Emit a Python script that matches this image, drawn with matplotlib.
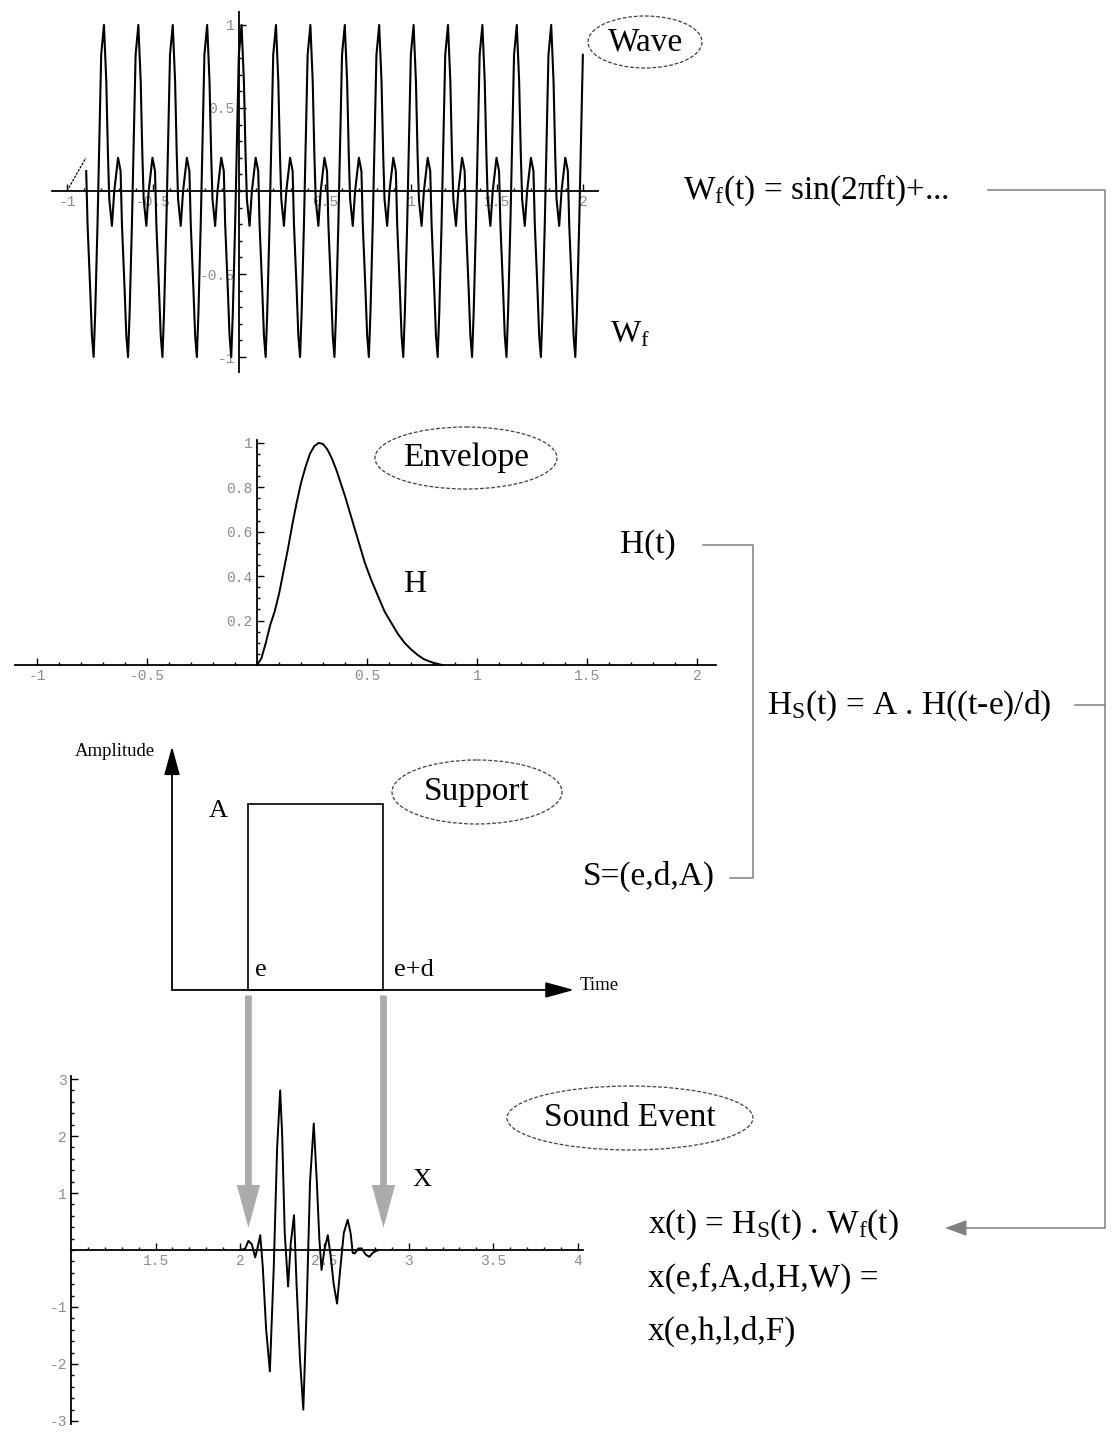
import matplotlib.pyplot as plt
import numpy as np
from matplotlib.patches import Ellipse, Rectangle
from matplotlib.ticker import FixedLocator, FixedFormatter

plt.rcParams['font.family'] = ['Liberation Serif', 'DejaVu Serif']
plt.rcParams['mathtext.fontset'] = 'custom'
plt.rcParams['mathtext.rm'] = 'Liberation Serif'
plt.rcParams['mathtext.it'] = 'Liberation Serif:italic'

W, H = 1113, 1439

# --- data ----------------------------------------------------------------
# W_f : one period of the wave (phase 0..1 from a top peak), repeated f = 5
wave_period = 0.2
wave_first_peak = -0.785
wave_phase = [0.0, 0.068, 0.116, 0.155, 0.232, 0.30, 0.41, 0.484, 0.523,
              0.60, 0.65, 0.70, 0.745, 0.813, 0.871, 0.92]
wave_value = [1.0, 0.66, 0.22, -0.05, -0.21, 0.0, 0.2, 0.12, -0.2,
              -0.59, -0.87, -1.0, -0.74, -0.2, 0.36, 0.82]
wave_ramp_t = [-1.0, -0.89]
wave_ramp_v = [0.0, 0.2]

# H : envelope
env_t = [0.0, 0.02, 0.04, 0.06, 0.08, 0.10, 0.12, 0.14, 0.16, 0.18, 0.20,
         0.22, 0.24, 0.26, 0.28, 0.30, 0.32, 0.34, 0.36, 0.38, 0.40, 0.43,
         0.46, 0.49, 0.52, 0.55, 0.58, 0.61, 0.64, 0.67, 0.70, 0.73, 0.76,
         0.80, 0.84]
env_h = [0.0, 0.03, 0.1, 0.18, 0.24, 0.32, 0.42, 0.52, 0.63, 0.73, 0.82,
         0.89, 0.95, 0.985, 1.0, 0.995, 0.97, 0.93, 0.88, 0.82, 0.76, 0.66,
         0.56, 0.46, 0.38, 0.31, 0.24, 0.19, 0.14, 0.10, 0.07, 0.045, 0.025,
         0.01, 0.0]

# S = (e, d, A) : support
support_e, support_d, support_A = 2.05, 0.8, 1.0

# x : sound event
sound_t = [2.00, 2.03, 2.05, 2.07, 2.09, 2.105, 2.12, 2.135, 2.155, 2.177,
           2.20, 2.22, 2.238, 2.25, 2.265, 2.285, 2.30, 2.32, 2.335, 2.355,
           2.375, 2.395, 2.415, 2.437, 2.455, 2.47, 2.483, 2.50, 2.52, 2.537,
           2.555, 2.575, 2.595, 2.615, 2.638, 2.655, 2.668, 2.68, 2.70, 2.72,
           2.745, 2.766, 2.79, 2.82]
sound_x = [0.0, 0.02, 0.16, 0.1, -0.13, 0.05, 0.26, -0.3, -1.4, -2.13,
           -0.3, 1.8, 2.8, 2.0, 0.3, -0.64, 0.1, 0.61, -0.6, -1.9,
           -2.8, -1.0, 1.2, 2.22, 1.2, 0.2, -0.35, 0.0, 0.26, -0.1,
           -0.6, -0.94, -0.3, 0.3, 0.53, 0.3, -0.05, -0.06, 0.02, 0.03,
           -0.08, -0.12, -0.04, 0.0]

# --- helpers -------------------------------------------------------------
fig = plt.figure(figsize=(W / 100, H / 100), dpi=100)
fig.patch.set_facecolor('white')

tick_grey = '#8c8c8c'
line_grey = '#7f7f7f'


def add_panel(left, top, right, bottom):
    ax = fig.add_axes([left / W, 1 - bottom / H, (right - left) / W, (bottom - top) / H])
    ax.patch.set_visible(False)
    return ax


def math_axes(ax, x0, y0, xt, xl, yt, yl, xminor, yminor):
    ax.spines['left'].set_position(('data', x0))
    ax.spines['bottom'].set_position(('data', y0))
    ax.spines['top'].set_visible(False)
    ax.spines['right'].set_visible(False)
    for s in ('left', 'bottom'):
        ax.spines[s].set_linewidth(1.3)
    ax.xaxis.set_major_locator(FixedLocator(xt))
    ax.xaxis.set_major_formatter(FixedFormatter(xl))
    ax.yaxis.set_major_locator(FixedLocator(yt))
    ax.yaxis.set_major_formatter(FixedFormatter(yl))
    ax.xaxis.set_minor_locator(FixedLocator(xminor))
    ax.yaxis.set_minor_locator(FixedLocator(yminor))
    ax.tick_params(which='both', direction='in', color='black', width=1.0,
                   labelcolor=tick_grey, labelsize=10.5,
                   labelfontfamily='Liberation Mono', pad=3)
    ax.tick_params(which='major', length=5)
    ax.tick_params(which='minor', length=2.5)


# --- Wave ----------------------------------------------------------------
ax_w = add_panel(52, 12, 598, 372)
ax_w.set_xlim(-1.087, 2.087)
ax_w.set_ylim(-1.09, 1.078)
wt, wv = [], []
for k in range(-1, 16):
    for p, v in zip(wave_phase, wave_value):
        t = wave_first_peak + wave_period * (k + p)
        if wave_ramp_t[-1] <= t <= 2.0:
            wt.append(t)
            wv.append(v)
ax_w.plot(wave_ramp_t, wave_ramp_v, color='black', lw=0.9, ls=(0, (2, 1)))
ax_w.plot(wt, wv, color='black', lw=1.5)
math_axes(ax_w, 0, 0,
          [-1, -0.5, 0.5, 1, 1.5, 2], ['-1', '-0.5', '0.5', '1', '1.5', '2'],
          [-1, -0.5, 0.5, 1], ['-1', '-0.5', '0.5', '1'],
          np.arange(-1.0, 2.01, 0.1), np.arange(-1.0, 1.01, 0.1))

# --- Envelope ------------------------------------------------------------
ax_e = add_panel(15, 440, 716, 700)
ax_e.set_xlim(-1.1, 2.086)
ax_e.set_ylim(-0.158, 1.013)
ax_e.plot(env_t, env_h, color='black', lw=1.4)
math_axes(ax_e, 0, 0,
          [-1, -0.5, 0.5, 1, 1.5, 2], ['-1', '-0.5', '0.5', '1', '1.5', '2'],
          [0.2, 0.4, 0.6, 0.8, 1.0], ['0.2', '0.4', '0.6', '0.8', '1'],
          np.arange(-1.0, 2.01, 0.1), np.arange(0.05, 1.0, 0.05))
ax_e.spines['left'].set_bounds(0, 1.013)

# --- Sound event ---------------------------------------------------------
def px_t(px):
    return 1 + (px - 71.2) / 168.8


ax_s = add_panel(60, 1070, 588, 1430)
ax_s.set_xlim(px_t(60), px_t(588))
ax_s.set_ylim(-3.158, 3.158)
ax_s.plot(sound_t, sound_x, color='black', lw=1.4, zorder=3)
math_axes(ax_s, 1.0, 0,
          [1.5, 2, 2.5, 3, 3.5, 4], ['1.5', '2', '2.5', '3', '3.5', '4'],
          [-3, -2, -1, 1, 2, 3], ['-3', '-2', '-1', '1', '2', '3'],
          np.arange(1.1, 4.01, 0.1), np.arange(-3.0, 3.01, 0.2))
ax_s.spines['left'].set_bounds(-3.05, 3.05)
ax_s.spines['bottom'].set_bounds(1.0, 4.03)

# --- Support (schematic) -------------------------------------------------
ax_p = add_panel(160, 740, 600, 1000)
ax_p.set_xlim(px_t(160), px_t(600))
ax_p.set_ylim(-0.054, 1.344)
ax_p.axis('off')
t0 = px_t(172)
head = dict(arrowstyle='-|>,head_length=1.1,head_width=0.3',
            mutation_scale=16, color='black', lw=1.3, shrinkA=0, shrinkB=0)
ax_p.annotate('', xy=(t0, 1.31), xytext=(t0, 0), arrowprops=head)
ax_p.annotate('', xy=(px_t(574), 0), xytext=(t0, 0), arrowprops=head)
ax_p.add_patch(Rectangle((support_e, 0), support_d, support_A,
                         fill=False, ec='black', lw=1.2))
ax_p.text(support_e - 0.12, support_A * 0.96, 'A', ha='right', va='center', fontsize=19)
ax_p.text(support_e + 0.04, 0.05, 'e', ha='left', va='bottom', fontsize=19)
ax_p.text(support_e + support_d + 0.06, 0.05, 'e+d', ha='left', va='bottom', fontsize=19)

# grey arrows from support edges down to the sound event
for te in (support_e, support_e + support_d):
    ax_s.annotate('', xy=(te, 0.39), xycoords=ax_s.transData,
                  xytext=(te, -0.03), textcoords=ax_p.transData,
                  arrowprops=dict(arrowstyle='simple,head_length=2.2,head_width=1.2,tail_width=0.35',
                                  mutation_scale=14, fc='#ababab', ec='none',
                                  shrinkA=0, shrinkB=0),
                  zorder=1)

# --- overlay: labels, ellipses, connectors -------------------------------
ov = fig.add_axes([0, 0, 1, 1], zorder=10)
ov.set_xlim(0, W)
ov.set_ylim(H, 0)
ov.axis('off')
ov.patch.set_visible(False)

big = 24
for cx, cy, w, h, txt in [(645, 42, 114, 52, 'Wave'),
                          (466, 458, 182, 62, 'Envelope'),
                          (477, 792, 170, 64, 'Support'),
                          (630, 1118, 246, 64, 'Sound Event')]:
    ov.add_patch(Ellipse((cx, cy), w, h, fill=False, ec='#404040', lw=0.9, ls=(0, (3, 1.5))))
    ov.text(cx, cy, txt, ha='center', va='center', fontsize=big)

ov.text(610, 335, 'W$_\\mathrm{f}$', ha='left', va='center', fontsize=23)
ov.text(403, 585, 'H', ha='left', va='center', fontsize=23)
ov.text(412, 1180, 'X', ha='left', va='center', fontsize=19)
ov.text(155, 752, 'Amplitude', ha='right', va='center', fontsize=13.5)
ov.text(580, 986, 'Time', ha='left', va='center', fontsize=13.5)

ov.text(683, 190, 'W$_\\mathrm{f}$(t) = sin(2πft)+...', ha='left', va='center', fontsize=big)
ov.text(676, 545, 'H(t)', ha='right', va='center', fontsize=big)
ov.text(715, 876, 'S=(e,d,A)', ha='right', va='center', fontsize=big)
ov.text(767, 706, 'H$_\\mathrm{S}$(t) = A . H((t-e)/d)', ha='left', va='center', fontsize=big)
ov.text(648, 1225, 'x(t) = H$_\\mathrm{S}$(t) . W$_\\mathrm{f}$(t)', ha='left', va='center', fontsize=big)
ov.text(648, 1278, 'x(e,f,A,d,H,W) =', ha='left', va='center', fontsize=big)
ov.text(648, 1331, 'x(e,h,l,d,F)', ha='left', va='center', fontsize=big)

ov.plot([703, 753, 753, 730], [545, 545, 878, 878], color=line_grey, lw=1.1)
ov.plot([1075, 1105], [705, 705], color=line_grey, lw=1.1)
ov.plot([988, 1105, 1105, 962], [190, 190, 1228, 1228], color=line_grey, lw=1.1)
ov.annotate('', xy=(945, 1228), xytext=(966, 1228),
            arrowprops=dict(arrowstyle='simple,head_length=1.1,head_width=0.8,tail_width=0.1',
                            mutation_scale=14, fc=line_grey, ec='none',
                            shrinkA=0, shrinkB=0))

fig.savefig('out.png', dpi=100)
